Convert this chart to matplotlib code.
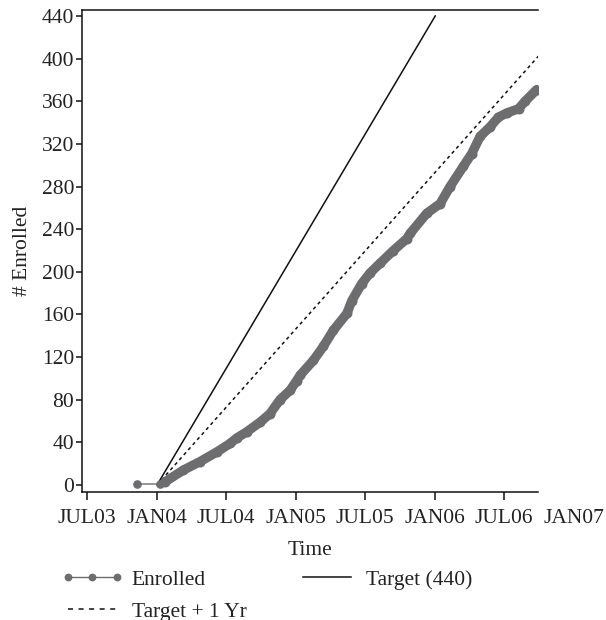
import matplotlib
matplotlib.use("Agg")
import matplotlib.pyplot as plt
import matplotlib.dates as mdates
from matplotlib.lines import Line2D
import datetime as dt

plt.rcParams['font.family'] = ['Liberation Serif', 'DejaVu Serif']

# ---- data ----
enroll_days = [-53, 7, 21, 69, 113, 157, 192, 209, 236, 271, 297, 323, 350, 367,
               376, 411, 437, 463, 499, 512, 538, 560, 586, 621, 656, 665, 709,
               744, 770, 805, 827, 849, 875, 897, 919, 950, 967, 998]
enroll_vals = [1, 1, 3, 14, 22, 31, 39, 44, 50, 59, 67, 80, 89, 98,
               103, 117, 130, 145, 161, 173, 189, 199, 208, 220, 231, 236, 255,
               264, 280, 299, 311, 327, 336, 345, 349, 353, 360, 371]
target_dates = ["2004-01-01", "2006-01-01"]
target_vals = [0, 440]
target1_dates = ["2004-01-01", "2007-01-01"]
target1_vals = [0, 440]
tick_dates = ["2003-07-01", "2004-01-01", "2004-07-01", "2005-01-01",
              "2005-07-01", "2006-01-01", "2006-07-01"]
tick_labels = ["JUL03", "JAN04", "JUL04", "JAN05", "JUL05", "JAN06", "JUL06"]
extra_tick_date = "2007-01-01"
extra_tick_label = "JAN07"
yticks = [0, 40, 80, 120, 160, 200, 240, 280, 320, 360, 400, 440]

base = dt.date(2004, 1, 1)
enroll_x = [base + dt.timedelta(days=d) for d in enroll_days]
to_d = lambda s: dt.date.fromisoformat(s)

GRAY = "#6d6d70"
TXT = "#222222"
FS = 15.5

fig = plt.figure(figsize=(6.06, 6.2), dpi=100)
ax = fig.add_axes([82/606, 1-492/620, (538-82)/606, (492-10)/620])

# enrolled: thin connecting line with markers, plus dense thick band
ax.plot(enroll_x[:3], enroll_vals[:3], color=GRAY, lw=1.0, marker='o', ms=5.2,
        zorder=3)
ax.plot(enroll_x[2:], enroll_vals[2:], color=GRAY, lw=6.8,
        solid_capstyle='round', solid_joinstyle='round', zorder=3)
ax.plot(enroll_x[2:], enroll_vals[2:], color=GRAY, lw=0, marker='o', ms=7.2,
        markeredgewidth=0, zorder=3)

ax.plot([to_d(d) for d in target_dates], target_vals, color="#111111", lw=1.1,
        zorder=2)
ax.plot([to_d(d) for d in target1_dates], target1_vals, color="#111111", lw=1.1,
        linestyle=(0, (2.2, 2.2)), zorder=2)

ax.set_xlim(dt.date(2003, 6, 18), dt.date(2006, 9, 28))
ax.set_ylim(-6.5, 445.6)

ax.set_xticks([to_d(d) for d in tick_dates])
ax.set_xticklabels(tick_labels)
ax.set_yticks(yticks)
ax.set_yticklabels([str(v) for v in yticks])

ax.spines['right'].set_visible(False)
for s in ['left', 'bottom', 'top']:
    ax.spines[s].set_color("#111111")
    ax.spines[s].set_linewidth(1.1)

ax.tick_params(axis='x', length=6, width=1.1, pad=6, labelsize=FS,
               colors="#111111", labelcolor=TXT)
ax.tick_params(axis='y', length=4, width=1.1, pad=1.5, labelsize=FS,
               colors="#111111", labelcolor=TXT)

# JAN07 label beyond axis limit
ax.annotate(extra_tick_label, xy=(mdates.date2num(to_d(extra_tick_date)), 0),
            xycoords=ax.get_xaxis_transform(), xytext=(0, -12.0),
            textcoords='offset points', ha='center', va='top', fontsize=FS,
            color=TXT, annotation_clip=False)

ax.set_xlabel("Time", fontsize=FS, color=TXT, labelpad=9.5)
ax.set_ylabel("# Enrolled", fontsize=FS, color=TXT, labelpad=7)

h_enr = Line2D([], [], color=GRAY, lw=1.0, marker='o', ms=4.6)
h_t1 = Line2D([], [], color="#111111", lw=1.1, linestyle=(0, (3.3, 3.6)))
h_t = Line2D([], [], color="#111111", lw=1.1)
leg = fig.legend([h_enr, h_t1, h_t], ["Enrolled", "Target + 1 Yr", "Target (440)"],
                 ncol=2, frameon=False, loc='upper left',
                 bbox_to_anchor=(50.5/606, 1-559/620), borderpad=0,
                 fontsize=FS, handlelength=2.87, handletextpad=0.40,
                 columnspacing=2.3, labelspacing=0.54, numpoints=3)
for t in leg.get_texts():
    t.set_color(TXT)

fig.savefig("out.png", dpi=100)
